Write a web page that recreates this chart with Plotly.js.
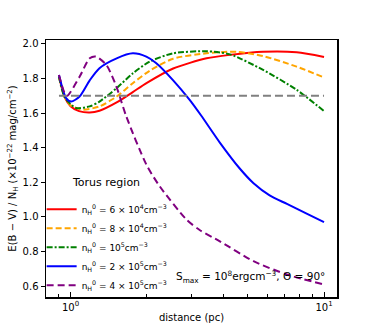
<!DOCTYPE html>
<html>
<head>
<meta charset="utf-8">
<script src="https://cdn.plot.ly/plotly-3.0.1.min.js"></script>
<style>
  body { margin: 0; background: #fff; }
  #chart { width: 374px; height: 334px; }
</style>
</head>
<body>
<div id="chart"></div>
<script>
// n_H^0 = 6e4
const xRed = [0.9, 0.95, 1.0, 1.08, 1.19, 1.3, 1.52, 1.76, 2.0, 2.54, 3.44, 4.25, 5.75, 7.8, 10];
const yRed = [1.81, 1.69, 1.64, 1.612, 1.604, 1.614, 1.662, 1.722, 1.775, 1.858, 1.917, 1.937, 1.955, 1.952, 1.925];

// n_H^0 = 8e4
const xOrange = [0.9, 0.95, 1.0, 1.12, 1.3, 1.52, 1.76, 2.05, 2.54, 3.44, 4.52, 5.75, 7.8, 10];
const yOrange = [1.81, 1.69, 1.645, 1.62, 1.639, 1.696, 1.773, 1.845, 1.915, 1.946, 1.955, 1.93, 1.869, 1.806];

// n_H^0 = 1e5
const xGreen = [0.9, 0.95, 1.05, 1.19, 1.3, 1.52, 1.76, 2.05, 2.54, 3.44, 4.25, 5.75, 7.8, 10];
const yGreen = [1.81, 1.69, 1.63, 1.639, 1.667, 1.745, 1.83, 1.898, 1.946, 1.958, 1.94, 1.85, 1.735, 1.612];

// n_H^0 = 2e5
const xBlue = [0.9, 0.96, 1.006, 1.085, 1.19, 1.3, 1.52, 1.76, 1.99, 2.18, 2.54, 2.95, 3.28, 3.88, 4.65, 5.27, 6.1, 7.14, 8.5, 10];
const yBlue = [1.82, 1.687, 1.667, 1.696, 1.79, 1.86, 1.917, 1.946, 1.927, 1.889, 1.79, 1.677, 1.585, 1.43, 1.28, 1.195, 1.125, 1.075, 1.02, 0.97];

// n_H^0 = 4e5
const xPurple = [0.9, 0.947, 0.97, 1.085, 1.19, 1.26, 1.384, 1.516, 1.66, 1.99, 2.25, 2.87, 3.24, 3.88, 5.27, 7.14, 10];
const yPurple = [1.82, 1.716, 1.70, 1.81, 1.917, 1.927, 1.879, 1.754, 1.58, 1.303, 1.176, 0.984, 0.923, 0.859, 0.744, 0.667, 0.609];

const xRef = [0.9, 10];
const yRef = [1.7, 1.7];

const names = [
  'n<sub>H</sub><sup>0</sup> = 6 × 10<sup>4</sup>cm<sup>−3</sup>',
  'n<sub>H</sub><sup>0</sup> = 8 × 10<sup>4</sup>cm<sup>−3</sup>',
  'n<sub>H</sub><sup>0</sup> = 10<sup>5</sup>cm<sup>−3</sup>',
  'n<sub>H</sub><sup>0</sup> = 2 × 10<sup>5</sup>cm<sup>−3</sup>',
  'n<sub>H</sub><sup>0</sup> = 4 × 10<sup>5</sup>cm<sup>−3</sup>'
];

const minorTicks = [0.9, 2, 3, 4, 5, 6, 7, 8, 9];

function curve(x, y, name, color, dash) {
  return {
    type: 'scatter', mode: 'lines', name: name, x: x, y: y,
    line: { color: color, width: 2, dash: dash, shape: 'spline', smoothing: 0.7 }
  };
}

const traces = [
  curve(xRed, yRed, names[0], 'red', 'solid'),
  curve(xOrange, yOrange, names[1], 'orange', '6px,3px'),
  curve(xGreen, yGreen, names[2], 'green', '6px,2px,2px,2px'),
  curve(xBlue, yBlue, names[3], 'blue', 'solid'),
  curve(xPurple, yPurple, names[4], 'purple', '7px,4px'),
  {
    type: 'scatter', mode: 'lines', x: xRef, y: yRef, showlegend: false,
    line: { color: 'grey', width: 2, dash: '8px,4px' }
  }
];

const layout = {
  width: 374, height: 334,
  margin: { l: 46, r: 37, t: 40, b: 37 },
  font: { family: 'DejaVu Sans', size: 10, color: 'black' },
  paper_bgcolor: 'white', plot_bgcolor: 'white',
  showlegend: true,
  legend: {
    x: -0.015, y: 0.398, xanchor: 'left', yanchor: 'top',
    bgcolor: 'rgba(0,0,0,0)', font: { size: 9 },
    itemwidth: 30, tracegroupgap: 0
  },
  xaxis: {
    type: 'log', range: [Math.log10(0.8), Math.log10(11.25)],
    tickvals: [1, 10], ticktext: ['10<sup>0</sup>', '10<sup>1</sup>'],
    ticks: 'inside', ticklen: 5, tickcolor: 'black',
    minor: { tickvals: minorTicks, ticks: 'inside', ticklen: 3, tickcolor: 'black' },
    showgrid: false, zeroline: false,
    showline: true, linecolor: 'black', linewidth: 1.5, mirror: true,
    title: { text: 'distance (pc)', font: { size: 10 }, standoff: 2 }
  },
  yaxis: {
    range: [0.537, 2.023],
    tickvals: [0.6, 0.8, 1.0, 1.2, 1.4, 1.6, 1.8, 2.0],
    ticktext: ['0.6', '0.8', '1.0', '1.2', '1.4', '1.6', '1.8', '2.0'],
    ticks: 'outside', ticklen: 4, tickcolor: 'black',
    showgrid: false, zeroline: false,
    showline: true, linecolor: 'black', linewidth: 1.5, mirror: true,
    title: { text: 'E(B − V) / N<sub>H</sub> (×10<sup>−22</sup> mag/cm<sup>−2</sup>)', font: { size: 10 }, standoff: 4 }
  },
  annotations: [
    {
      xref: 'paper', yref: 'paper', x: 0.206, y: 0.444, xanchor: 'center', yanchor: 'middle',
      showarrow: false, font: { size: 11 }, text: 'Torus region'
    },
    {
      xref: 'paper', yref: 'paper', x: 0.44, y: 0.078, xanchor: 'left', yanchor: 'middle',
      showarrow: false, font: { size: 10.5 },
      text: 'S<sub>max</sub> = 10<sup>8</sup>ergcm<sup>−3</sup>, Θ = 90°'
    }
  ]
};

Plotly.newPlot('chart', traces, layout, { displayModeBar: false, staticPlot: true });
</script>
</body>
</html>
